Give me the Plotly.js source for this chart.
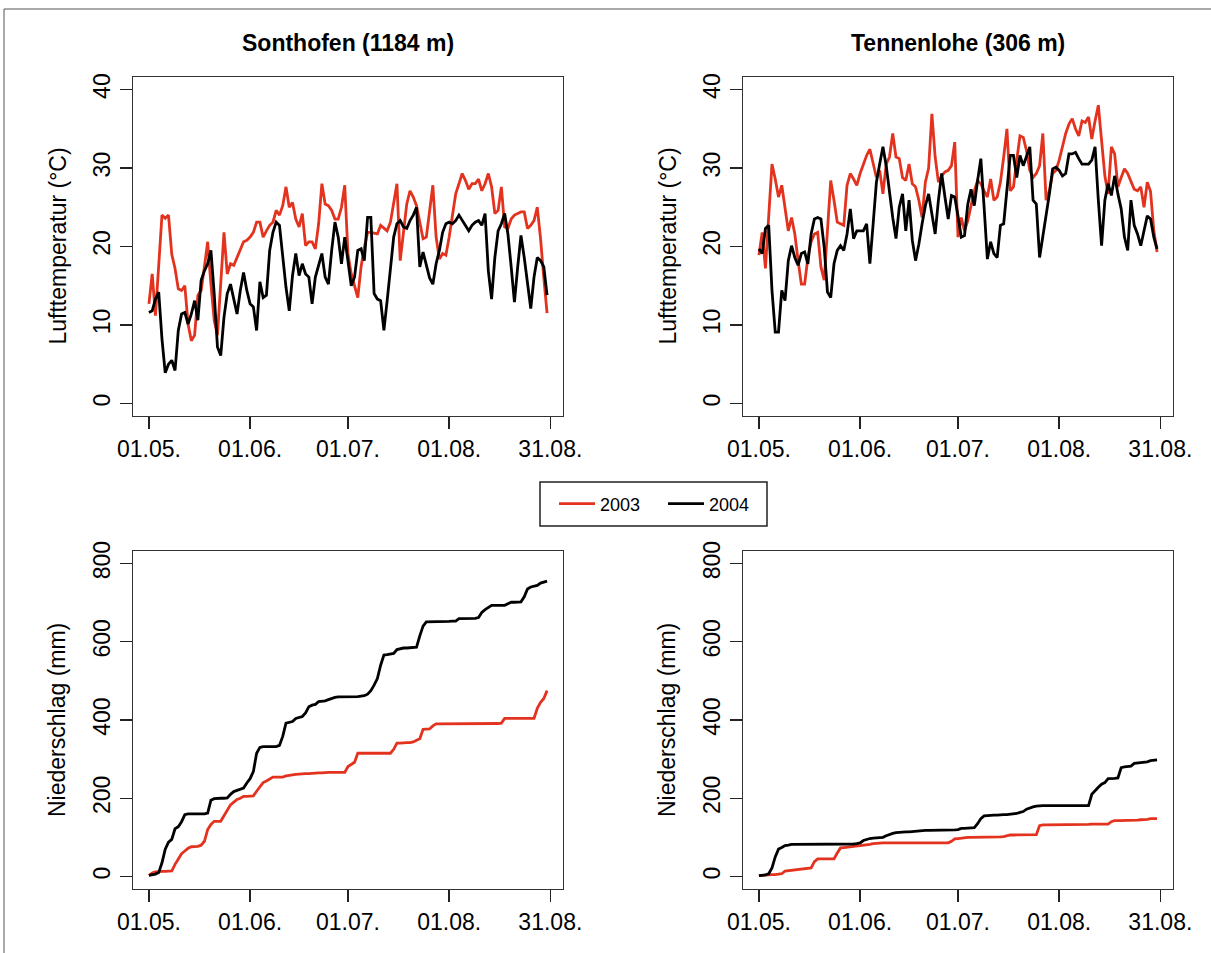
<!DOCTYPE html>
<html>
<head>
<meta charset="utf-8">
<script src="https://cdn.plot.ly/plotly-3.0.1.min.js"></script>
<style>html,body{margin:0;padding:0;background:#fff;}#chart{width:1211px;height:953px;}</style>
</head>
<body>
<div id="chart"></div>
<script>
// ---- data ----
const tickDays = [0, 31, 61, 92, 123];
const tickLabels = ["01.05.", "01.06.", "01.07.", "01.08.", "31.08."];
const seriesNames = ["2003", "2004"];
const panelTitles = ["Sonthofen (1184 m)", "Tennenlohe (306 m)"];
const yTitles = ["Lufttemperatur (°C)", "Niederschlag (mm)"];
const tempTicks = [0, 10, 20, 30, 40];
const precTicks = [0, 200, 400, 600, 800];

const sonthofenTemp2003 = [12.7,16.5,11.2,18,24,23.6,24,19,17.2,14.6,
  14.4,15,10.1,8,8.7,13.8,14.4,17.4,20.6,15.2,
  10.6,8.7,16,21.8,16.5,17.8,17.6,18.6,19.7,20.6,
  20.8,21.2,21.8,23.1,23.1,21.2,22,22.7,23.1,24.6,
  24,25.2,27.6,25,25.6,23.5,22.5,24.2,20.1,20.6,
  20.6,19.7,22.9,28,25.4,25.2,24.6,23.5,23.5,25,
  27.8,19,16.5,15,13.5,17.4,19.9,21.8,21.8,21.7,
  21.6,22.7,22.3,22,23.1,25.4,28,18.2,21.6,25.4,
  27.1,26.3,25.2,23.3,21,21.2,24.2,27.8,21.2,18.4,
  19.1,18.9,21.2,24.2,26.7,28,29.3,28.4,27.3,28,
  28,28.6,27.1,28,29.3,27.6,24.2,24.6,27.6,22.5,
  22.3,23.5,24,24.2,24.4,24.4,22.3,22.7,23.3,25,
  21,16,11.5];
const sonthofenTemp2004 = [11.6,11.8,13.3,14.2,8.2,3.9,5,5.5,4.2,9.3,
  11.4,11.6,10.1,11.4,13.1,10.6,15.7,16.9,17.8,19.5,
  14,7.2,6.1,11,14,15.2,13.3,11.4,14.4,16.7,
  14.4,12.7,12.3,9.3,15.5,13.5,13.8,19.5,21.8,23.1,
  22.7,18.6,14.8,11.8,16.3,19.1,16.3,17.8,16.5,16.1,
  12.7,16.1,17.8,19.1,16.1,15.2,19.5,23.1,21.2,17.8,
  21.2,18.2,15,16.1,19.5,19.7,18.2,23.7,23.7,14,
  13.3,13.1,9.3,13.1,17.4,21.2,22.9,23.3,22.5,22.3,
  23.3,24,25,17.4,19.3,17.6,16,15.2,17.8,19.5,
  21.8,22.9,23.1,22.9,23.3,24,23.3,22.7,22,22.7,
  23.1,23.3,22.7,24.2,16.9,13.3,18.6,22,22.9,24.2,
  21.6,17.4,12.9,17.4,21.4,18.6,15.2,12.1,16.1,18.6,
  18.2,17.4,13.8];
const tennenloheTemp2003 = [18.9,21.8,17.2,23.7,30.5,28.6,26.3,27.8,25,22,
  23.7,21.6,18.2,15.2,15.2,18.6,20.6,21.6,21.8,17.4,
  15.7,22,28.4,25.9,23.1,22.9,22.7,27.8,29.3,28.6,
  27.8,29.3,30.5,31.6,32.4,30.7,28.8,29.7,26.7,30.5,
  31.4,34.4,31.4,31.2,28.8,28.4,30.5,28,27.6,25.9,
  23.7,28.2,30,36.9,31.4,28.2,29,29.5,29.7,30.3,
  33.3,21.2,23.7,22,23.3,25.2,27.1,28.4,28,27.1,
  26.3,28.6,25.9,26.3,28.2,31.4,35,27.1,27.6,31,
  34.1,33.9,32.2,29.7,28.8,29.3,30.3,34.4,25.9,27.1,
  29.3,29.7,31,32.7,34.4,35.6,36.3,35,34.1,36,
  35.8,36.5,33.7,36,38,33.5,29,26.7,32.7,31.8,
  27.6,28.8,29.9,29.3,28.4,27.3,27.1,27.6,25,28.2,
  27,22,19.3];
const tennenloheTemp2004 = [19.7,19.1,22.3,22.7,14.4,9.1,9.1,14.4,13.1,18.2,
  20.1,18.6,17.6,19.1,19.3,17.8,21.6,23.5,23.7,23.5,
  19.9,14.2,13.5,17.8,19.5,20.1,19.5,21.6,24.8,21,
  22,22,22,22.9,17.8,22.9,28.2,30.5,32.7,30.3,
  26.7,23.7,21,25,26.7,22,25.9,20.8,18.2,20.3,
  22.9,25.2,26.7,23.9,21.6,25.9,29.3,26.3,23.5,26.5,
  26.3,23.9,21.2,21.4,25.4,27.3,25.2,28.4,31.2,25,
  18.4,20.6,19.1,18.6,22.7,22.9,27.6,31.6,31.6,28.8,
  31.6,30.3,31.5,32.7,25.9,25.4,18.6,21.2,24.2,26.7,
  29.9,30.1,29.7,29,29.3,31.8,31.8,32,31.2,30.5,
  30.5,30.5,31,32.7,25.9,20.1,25.9,28,26.5,29,
  26.7,24.8,21.2,19.5,25.9,22.7,21.6,20.1,22,23.9,
  23.5,21.2,19.7];

const sonthofenPrec2003 = [3,9,12,13,13,13,14,14,31,45,
  58,65,72,76,77,77,80,90,120,133,
  141,141,141,155,171,183,190,197,200,205,
  205,206,206,218,230,240,244,248,254,254,
  254,254,257,259,260,261,262,262,263,263,
  264,264,265,265,266,266,266,266,266,266,
  266,281,286,292,315,315,315,315,315,315,
  315,315,315,315,315,325,341,341,342,342,
  342,344,348,352,376,376,377,385,390,390,
  390,390,390,390,390,390,390,390,390,390,
  390,391,391,391,391,391,391,391,392,404,
  404,404,404,404,404,404,404,404,404,430,
  445,455,475];
const sonthofenPrec2004 = [3,4,6,10,35,70,88,95,122,127,
  140,158,160,160,160,160,160,160,162,195,
  199,200,200,200,201,210,217,220,222,226,
  239,250,268,315,330,332,332,332,332,332,
  335,358,392,394,396,404,407,409,418,434,
  438,440,447,448,449,452,455,458,459,459,
  459,459,459,459,460,461,462,466,475,489,
  506,540,566,567,568,570,580,583,584,584,
  585,585,586,615,640,651,651,651,651,651,
  652,652,652,653,653,659,659,659,659,659,
  660,662,675,682,688,693,693,693,693,693,
  697,701,701,701,702,715,735,740,742,744,
  750,752,755];
const tennenlohePrec2003 = [2,3,3,4,5,5,6,7,14,15,
  16,18,18,19,20,21,22,38,45,45,
  45,45,45,45,60,73,74,75,76,77,
  77,78,79,80,82,84,85,86,86,86,
  86,86,86,86,86,86,86,86,86,86,
  86,86,86,86,86,86,86,86,86,90,
  96,97,98,100,100,100,100,100,100,100,
  100,101,101,101,101,102,104,106,106,106,
  106,106,107,107,107,107,130,132,132,132,
  132,132,132,132,133,133,133,133,133,133,
  133,133,134,134,134,134,134,134,140,143,
  143,143,143,144,144,144,144,145,145,146,
  148,148,148];
const tennenlohePrec2004 = [2,3,4,7,22,50,70,74,79,80,
  82,82,82,82,82,82,82,82,82,82,
  82,82,82,82,82,82,82,82,82,83,
  84,86,92,95,97,98,99,100,100,104,
  108,110,112,113,113,114,114,115,115,116,
  117,118,118,118,118,118,118,118,118,118,
  119,120,123,123,124,124,125,135,148,155,
  156,156,157,157,158,158,158,159,160,161,
  164,166,172,176,178,180,181,181,181,181,
  181,181,181,181,181,181,181,181,181,181,
  181,181,210,220,228,236,240,250,250,251,
  252,278,280,281,282,289,290,291,291,293,
  296,297,298];

// ---- drawing ----
const W = 1211, H = 953;
const fx = p => p / W;
const fy = p => 1 - p / H;
const days = sonthofenTemp2003.map((_, i) => i);
const colors = ["#e3321e", "#000000"];
const FONT = "Liberation Sans, Arial, Helvetica, sans-serif";

function tr(y, ax, ci, show) {
  return {
    x: days, y: y, type: "scatter", mode: "lines",
    name: seriesNames[ci], showlegend: show,
    xaxis: "x" + ax, yaxis: "y" + ax,
    line: { color: colors[ci], width: 2.8 },
    hoverinfo: "skip"
  };
}
const data = [
  tr(sonthofenTemp2003, "", 0, true), tr(sonthofenTemp2004, "", 1, true),
  tr(tennenloheTemp2003, "2", 0, false), tr(tennenloheTemp2004, "2", 1, false),
  tr(sonthofenPrec2003, "3", 0, false), tr(sonthofenPrec2004, "3", 1, false),
  tr(tennenlohePrec2003, "4", 0, false), tr(tennenlohePrec2004, "4", 1, false)
];

const common = {
  showline: true, mirror: true, linecolor: "#333", linewidth: 1.4,
  ticks: "outside", ticklen: 12, tickwidth: 1.4, tickcolor: "#222",
  showgrid: false, zeroline: false, fixedrange: true,
  tickfont: { family: FONT, size: 23, color: "#000" }
};
function xa(l, r, anchor) {
  return Object.assign({}, common, {
    anchor: anchor,
    domain: [fx(l), fx(r)], range: [-4.88, 126.88],
    tickmode: "array", tickvals: tickDays, ticktext: tickLabels
  });
}
function ya(t, b, ticks, anchor) {
  const span = ticks[ticks.length - 1] - ticks[0];
  return Object.assign({}, common, {
    anchor: anchor,
    domain: [fy(b), fy(t)], range: [ticks[0] - 0.04 * span, ticks[ticks.length - 1] + 0.04 * span],
    tickmode: "array", tickvals: ticks, tickangle: -90
  });
}
const L1 = 133, R1 = 563, L2 = 743, R2 = 1173, T1 = 77, B1 = 416, T2 = 551, B2 = 889;
function ann(text, xp, yp, angle, bold) {
  return {
    text: bold ? "<b>" + text + "</b>" : text,
    x: fx(xp), y: fy(yp), xref: "paper", yref: "paper",
    xanchor: "center", yanchor: "middle", showarrow: false,
    textangle: angle, font: { size: 23, family: FONT, color: "#000" }
  };
}
const layout = {
  width: W, height: H,
  margin: { l: 0, r: 0, t: 0, b: 0 },
  paper_bgcolor: "#fff", plot_bgcolor: "#fff",
  font: { family: FONT, color: "#000" },
  xaxis: xa(L1, R1, "y"), yaxis: ya(T1, B1, tempTicks, "x"),
  xaxis2: xa(L2, R2, "y2"), yaxis2: ya(T1, B1, tempTicks, "x2"),
  xaxis3: xa(L1, R1, "y3"), yaxis3: ya(T2, B2, precTicks, "x3"),
  xaxis4: xa(L2, R2, "y4"), yaxis4: ya(T2, B2, precTicks, "x4"),
  showlegend: true,
  legend: {
    orientation: "h", x: fx(554), y: fy(504), xanchor: "left", yanchor: "middle",
    borderwidth: 0, bgcolor: "rgba(0,0,0,0)",
    font: { family: FONT, size: 18, color: "#000" },
    itemwidth: 36, entrywidth: 58, entrywidthmode: "pixels"
  },
  annotations: [
    ann(panelTitles[0], (L1 + R1) / 2, 43, 0, true),
    ann(panelTitles[1], (L2 + R2) / 2, 43, 0, true),
    ann(yTitles[0], 57, (T1 + B1) / 2, -90, false),
    ann(yTitles[0], 667, (T1 + B1) / 2, -90, false),
    ann(yTitles[1], 57, (T2 + B2) / 2, -90, false),
    ann(yTitles[1], 667, (T2 + B2) / 2, -90, false)
  ],
  shapes: [
    { type: "line", xref: "paper", yref: "paper", x0: fx(4), x1: 1, y0: fy(9), y1: fy(9), line: { color: "#555", width: 1 } },
    { type: "line", xref: "paper", yref: "paper", x0: fx(4), x1: fx(4), y0: fy(9), y1: 0, line: { color: "#555", width: 1 } },
    { type: "rect", xref: "paper", yref: "paper", x0: fx(540), x1: fx(767), y0: fy(526), y1: fy(482), line: { color: "#222", width: 1.5 }, fillcolor: "rgba(0,0,0,0)" }
  ]
};
Plotly.newPlot("chart", data, layout, { displayModeBar: false, staticPlot: true });
</script>
</body>
</html>
